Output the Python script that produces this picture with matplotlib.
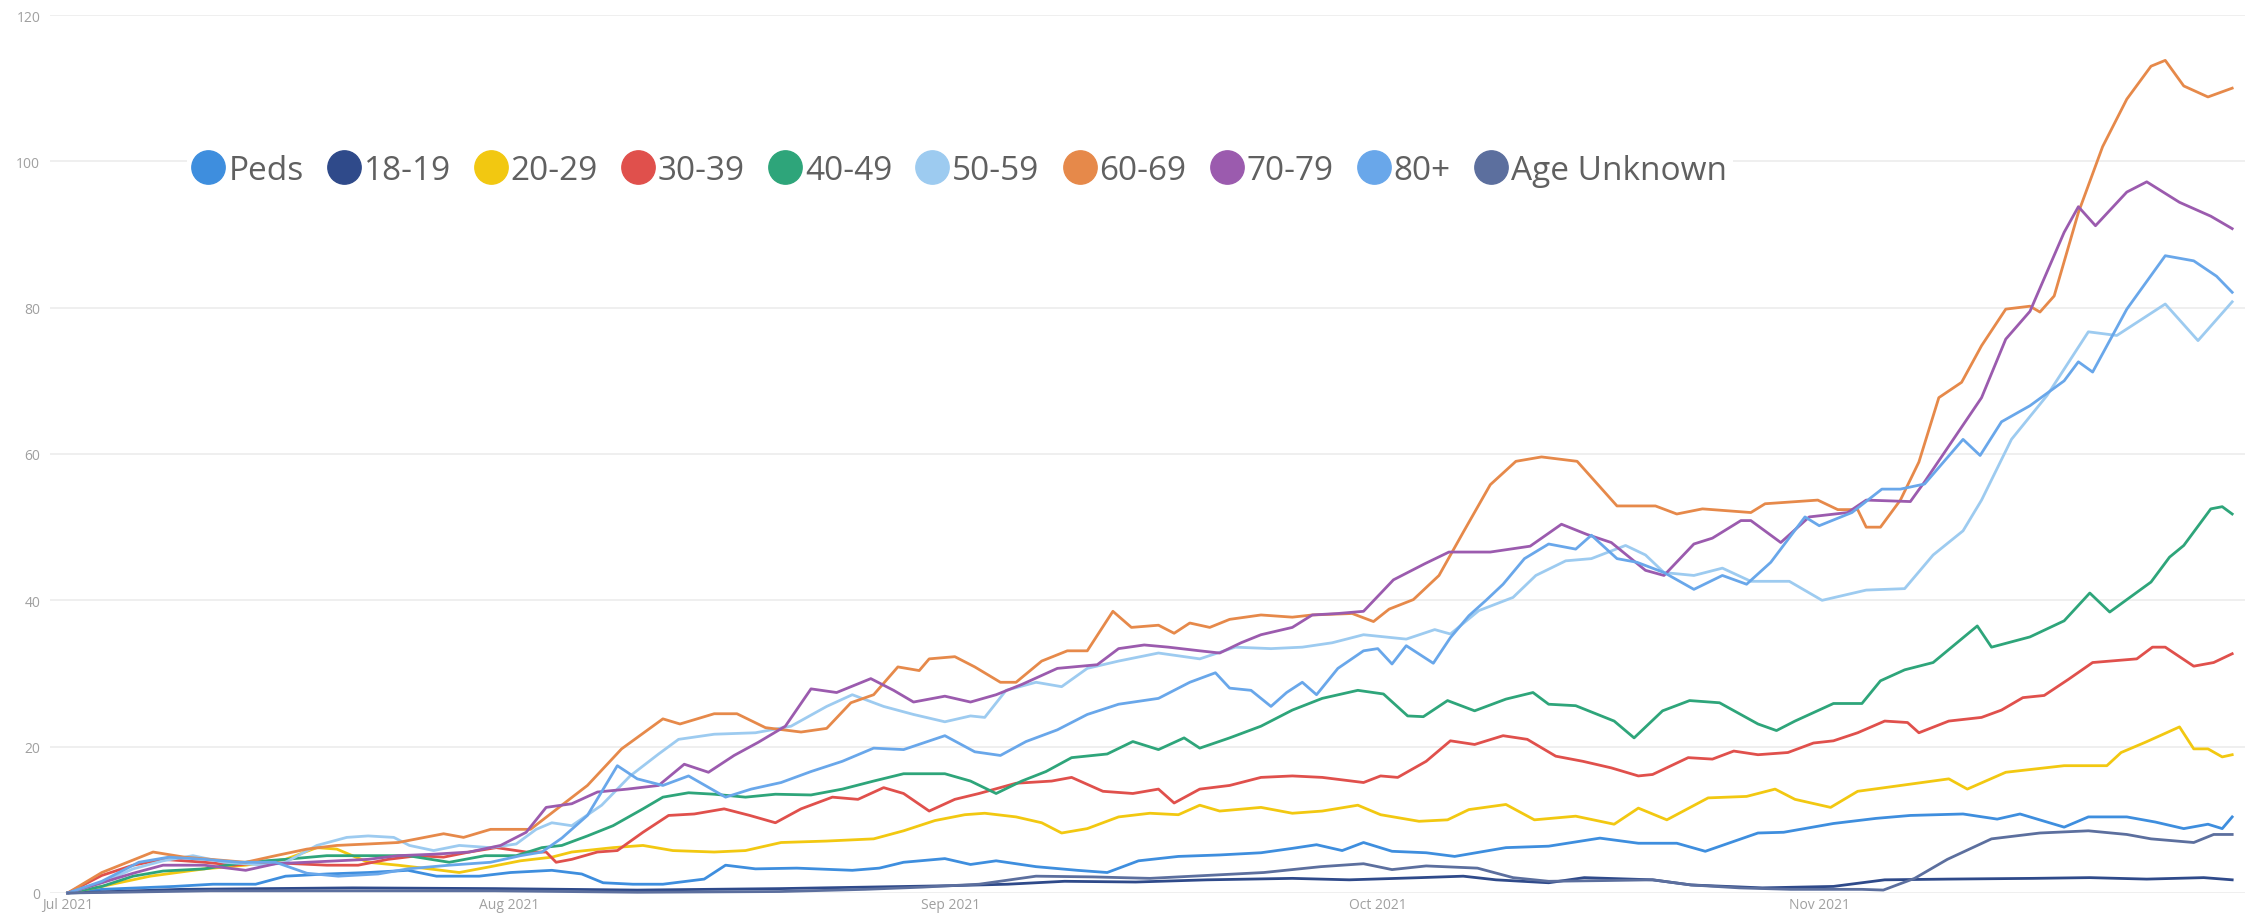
import numpy as np
import matplotlib
matplotlib.use("Agg")
import matplotlib.pyplot as plt
import matplotlib.dates as mdates
from matplotlib.lines import Line2D
from datetime import datetime

plt.rcParams["font.family"] = ["Open Sans", "DejaVu Sans"]

# values: day offset from 1 Jul 2021 and the value at that day
peds_days = [0, 2.4, 7.5, 10.2, 13.2, 15.3, 18.2, 21.1, 23.9, 25.9, 28.9, 31.1, 34, 36.1, 37.6, 39.7, 41.8, 44.7, 46.2, 48.3, 51.2, 55.1, 57, 58.7, 61.6, 63.4, 65.2, 68, 70.9, 73, 75.2, 78, 80.9, 83.8, 86, 87.7, 89.5, 91, 93, 95.4, 97.4, 101, 104, 107.6, 110.3, 113, 115, 118.7, 120.5, 124, 127, 129.4, 133.1, 135.5, 137.1, 140.2, 141.9, 144.6, 146.6, 148.6, 150.3, 151.3, 152]
peds = [0, 0.5, 0.9, 1.2, 1.2, 2.3, 2.6, 2.8, 3.1, 2.3, 2.3, 2.8, 3.1, 2.6, 1.4, 1.2, 1.2, 1.9, 3.8, 3.3, 3.4, 3.1, 3.4, 4.2, 4.7, 3.9, 4.4, 3.6, 3.1, 2.8, 4.4, 5, 5.2, 5.5, 6.1, 6.6, 5.8, 6.9, 5.7, 5.5, 5, 6.2, 6.4, 7.5, 6.8, 6.8, 5.7, 8.2, 8.3, 9.5, 10.2, 10.6, 10.8, 10.1, 10.8, 9, 10.4, 10.4, 9.7, 8.8, 9.4, 8.8, 10.4]

age18_days = [0, 8, 20, 30, 40, 50, 56, 62, 66, 70, 75, 80, 86, 90, 95, 98, 100.3, 104, 106.5, 111.3, 114, 119, 124, 127.6, 132, 138, 142, 146, 150, 152]
age18 = [0, 0.5, 0.7, 0.6, 0.4, 0.6, 0.8, 1, 1.2, 1.6, 1.5, 1.8, 2, 1.8, 2.1, 2.3, 1.8, 1.4, 2.1, 1.8, 1.1, 0.7, 0.9, 1.8, 1.9, 2, 2.1, 1.9, 2.1, 1.8]

age20_days = [0, 2.4, 5.8, 9.6, 12.5, 15.3, 17.5, 18.9, 21.1, 23.2, 25.4, 27.5, 29.7, 31.8, 34, 35.4, 38.3, 40.4, 42.5, 45.4, 47.6, 50.1, 53.3, 56.6, 58.7, 60.9, 63, 64.4, 66.6, 68.4, 69.8, 71.6, 73.8, 76, 78, 79.5, 80.9, 83.8, 86, 88.1, 90.6, 92.2, 94.9, 96.9, 98.4, 101, 103, 105.9, 108.6, 110.3, 112.3, 115.2, 117.9, 119.9, 121.3, 123.8, 125.7, 127.6, 132.1, 133.4, 136.1, 140.2, 143.2, 144.2, 145.9, 148.3, 149.3, 150.3, 151.3, 152]
age20 = [0, 0.9, 2.3, 3.3, 3.8, 4.6, 6.2, 6, 4.2, 3.8, 3.3, 2.8, 3.6, 4.4, 4.9, 5.6, 6.2, 6.5, 5.8, 5.6, 5.8, 6.9, 7.1, 7.4, 8.5, 9.9, 10.7, 10.9, 10.4, 9.6, 8.2, 8.8, 10.4, 10.9, 10.7, 12, 11.2, 11.7, 10.9, 11.2, 12, 10.7, 9.8, 10, 11.4, 12.1, 10, 10.5, 9.4, 11.6, 10, 13, 13.2, 14.2, 12.8, 11.7, 13.9, 14.4, 15.6, 14.2, 16.5, 17.4, 17.4, 19.2, 20.6, 22.7, 19.7, 19.7, 18.6, 18.9]

age30_days = [0, 2.4, 4.6, 6.7, 9.6, 11.7, 13.9, 16, 18.2, 20.4, 22.5, 24.6, 26.4, 28.2, 30.1, 32.2, 33.6, 34.3, 35.4, 37.2, 38.6, 40.4, 42.2, 44, 46.1, 47.9, 49.7, 51.5, 53.7, 55.5, 57.3, 58.7, 60.5, 62.3, 64, 66.6, 69.1, 70.5, 72.7, 74.8, 76.6, 77.7, 79.5, 81.6, 83.8, 86, 88.1, 91, 92.2, 93.4, 95.4, 97.1, 98.8, 100.8, 102.5, 104.5, 106.4, 108.4, 110.3, 111.3, 113.8, 115.5, 117, 118.7, 120.8, 122.6, 124, 125.7, 127.6, 129.2, 130, 132.1, 134.4, 135.8, 137.3, 138.8, 140.5, 142.2, 145.3, 146.4, 147.3, 149.3, 150.7, 152]
age30 = [0, 2.4, 3.8, 4.6, 4.2, 3.8, 4.2, 4, 3.8, 3.8, 4.6, 5.1, 4.9, 5.6, 6.2, 5.6, 5.6, 4.2, 4.6, 5.6, 5.8, 8.3, 10.6, 10.8, 11.5, 10.6, 9.6, 11.5, 13.1, 12.8, 14.4, 13.6, 11.2, 12.8, 13.6, 15, 15.3, 15.8, 13.9, 13.6, 14.2, 12.3, 14.2, 14.7, 15.8, 16, 15.8, 15.1, 16, 15.8, 18, 20.8, 20.3, 21.5, 21, 18.7, 18, 17.1, 16, 16.2, 18.5, 18.3, 19.4, 18.9, 19.2, 20.5, 20.8, 21.9, 23.5, 23.3, 21.9, 23.5, 24, 25, 26.7, 27, 29.2, 31.5, 32, 33.6, 33.6, 31, 31.5, 32.7]

age40_days = [0, 2.4, 4.6, 6.7, 9.6, 12.5, 15.3, 18.2, 21.1, 23.9, 26.8, 29.3, 31.5, 33.3, 34.7, 36.5, 38.3, 40.4, 41.8, 43.6, 45.4, 47.6, 49.7, 52.2, 54.4, 56.6, 58.7, 61.6, 63.4, 65.2, 67, 68.7, 70.5, 73, 74.8, 76.6, 78.4, 79.5, 81.6, 83.8, 86, 88.1, 90.6, 92.4, 94.1, 95.2, 96.9, 98.8, 101, 102.9, 104, 105.9, 108.6, 110, 112, 113.9, 116, 118.7, 120, 121.3, 124, 126, 127.3, 129, 131, 134.1, 135.1, 137.8, 140.2, 142, 143.4, 146.3, 147.6, 148.6, 150.5, 151.3, 152]
age40 = [0, 0.9, 2.3, 3, 3.3, 4.2, 4.6, 5.1, 5.1, 5.1, 4.2, 5.1, 5.1, 6.2, 6.5, 7.8, 9.2, 11.5, 13.1, 13.7, 13.5, 13.1, 13.5, 13.4, 14.2, 15.3, 16.3, 16.3, 15.3, 13.6, 15.3, 16.6, 18.5, 19, 20.7, 19.6, 21.2, 19.8, 21.2, 22.8, 25, 26.6, 27.7, 27.2, 24.2, 24.1, 26.3, 24.9, 26.5, 27.4, 25.8, 25.6, 23.5, 21.2, 24.9, 26.3, 26, 23.1, 22.2, 23.5, 25.9, 25.9, 29, 30.5, 31.5, 36.5, 33.6, 35, 37.2, 41, 38.4, 42.5, 45.9, 47.5, 52.5, 52.8, 51.8]

age50_days = [0, 2.4, 4.6, 6.7, 8.8, 11, 13.9, 15.3, 17.5, 19.6, 21.1, 22.9, 24, 25.7, 27.5, 29.7, 31.5, 32.9, 34, 35.4, 37.5, 39.5, 41.5, 42.9, 45.4, 48.3, 50.8, 53.3, 55.1, 57.3, 59.4, 61.6, 63.4, 64.4, 65.9, 68, 69.8, 71.6, 73.8, 76.6, 79.5, 82, 84.5, 86.7, 88.8, 91, 94, 96, 97.1, 99.1, 101.5, 103.1, 105.2, 107, 109.4, 110.8, 112.1, 114.2, 116.2, 118.2, 120.9, 123.2, 126.3, 129, 131, 133.1, 134.4, 136.5, 139, 141.9, 143.9, 147.3, 149.6, 152]
age50 = [0, 1.4, 3.3, 4.4, 5.1, 4.2, 3.8, 4.2, 6.5, 7.6, 7.8, 7.6, 6.5, 5.8, 6.5, 6.2, 6.7, 8.7, 9.6, 9.2, 12, 16, 19, 21, 21.7, 21.9, 22.8, 25.5, 27.1, 25.5, 24.4, 23.4, 24.2, 24, 27.7, 28.8, 28.2, 30.7, 31.7, 32.8, 32, 33.6, 33.4, 33.6, 34.2, 35.3, 34.7, 36, 35.4, 38.6, 40.4, 43.4, 45.4, 45.7, 47.5, 46.2, 43.8, 43.4, 44.4, 42.6, 42.6, 40, 41.4, 41.6, 46.2, 49.5, 53.7, 62, 68, 76.7, 76.2, 80.5, 75.5, 80.8]

age60_days = [0, 2.4, 4.2, 6, 8.2, 12.5, 14.6, 16.8, 18.9, 21.1, 23.2, 26.4, 27.8, 29.7, 32.5, 36.5, 38.9, 41.8, 43, 45.4, 47, 49, 51.5, 53.3, 55, 56.6, 58.3, 59.8, 60.5, 62.3, 63.7, 65.5, 66.6, 68.4, 70.2, 71.6, 73.4, 74.7, 76.6, 77.7, 78.8, 80.2, 81.6, 83.8, 86, 87.4, 90.2, 91.7, 92.8, 94.5, 96.3, 98, 99.9, 101.7, 103.5, 106, 108.8, 111.5, 113, 114.8, 118.2, 119.2, 122.9, 124.3, 125.7, 126.3, 127.3, 128.7, 130, 131.4, 133, 134.4, 136.1, 137.8, 138.5, 139.5, 141.2, 142.9, 144.6, 146.3, 147.3, 148.6, 150.3, 152]
age60 = [0, 2.8, 4.2, 5.6, 4.9, 4.2, 5.1, 6, 6.5, 6.7, 6.9, 8.1, 7.6, 8.7, 8.7, 14.7, 19.7, 23.8, 23.1, 24.5, 24.5, 22.6, 22, 22.5, 26, 27.1, 30.9, 30.4, 32, 32.3, 30.9, 28.8, 28.8, 31.7, 33.1, 33.1, 38.5, 36.3, 36.6, 35.5, 36.9, 36.3, 37.4, 38, 37.7, 38, 38.2, 37.1, 38.8, 40.1, 43.4, 49.3, 55.8, 59, 59.6, 59, 52.9, 52.9, 51.8, 52.5, 52, 53.2, 53.7, 52.4, 52.4, 50, 50, 53.7, 58.9, 67.7, 69.8, 74.8, 79.8, 80.2, 79.4, 81.6, 93, 102, 108.5, 113, 113.8, 110.3, 108.8, 110]

age70_days = [0, 2.4, 4.6, 6.7, 9.6, 12.5, 14.6, 16.8, 21.1, 23.2, 25.7, 28.2, 30.4, 32.2, 33.6, 35.4, 37.2, 39.3, 41.5, 43.3, 45, 46.8, 48.5, 50.4, 52.2, 54, 56.4, 58, 59.4, 61.6, 63.4, 65.2, 67, 69.5, 72.3, 73.8, 75.6, 77.3, 79.5, 80.9, 82.4, 83.8, 86, 87.4, 89.2, 91, 93.1, 95.3, 97, 99.9, 102.7, 104.9, 106.7, 108.4, 110.8, 112.1, 114.2, 115.5, 117.5, 118.2, 120.3, 122.3, 125, 126.3, 129.4, 130.4, 134.4, 136.1, 137.8, 140.2, 141.2, 142.4, 144.6, 146, 148.3, 150.5, 152]
age70 = [0, 1.4, 2.7, 3.8, 3.8, 3.1, 4, 4.2, 4.6, 5.1, 5.3, 5.6, 6.5, 8.3, 11.7, 12.2, 13.8, 14.2, 14.7, 17.6, 16.5, 18.8, 20.6, 22.8, 27.9, 27.4, 29.3, 27.7, 26.1, 26.9, 26.1, 27.1, 28.5, 30.7, 31.2, 33.4, 33.9, 33.6, 33.1, 32.8, 34.2, 35.3, 36.3, 38, 38.2, 38.5, 42.8, 45, 46.6, 46.6, 47.4, 50.4, 49, 47.9, 44.1, 43.4, 47.7, 48.5, 50.9, 50.9, 47.9, 51.4, 52, 53.7, 53.5, 56.2, 67.7, 75.7, 79.5, 90.3, 93.8, 91.2, 95.8, 97.2, 94.4, 92.5, 90.8]

age80_days = [0, 2.4, 5, 7.1, 9.6, 12.1, 14.6, 16.8, 19, 21.8, 23.9, 26.8, 29.7, 31.8, 33.3, 34.7, 36.5, 38.6, 40, 41.8, 43.6, 46.2, 48, 50.1, 52.2, 54.4, 56.6, 58.7, 61.6, 63.7, 65.5, 67.3, 69.5, 71.6, 73.8, 76.6, 78.8, 80.6, 81.6, 83.1, 84.5, 85.6, 86.7, 87.7, 89.2, 91, 92, 93, 94, 95.9, 97.1, 98.4, 99.6, 100.8, 102.3, 104, 105.9, 107, 108.8, 110.2, 112.1, 114.2, 116.2, 117.9, 119.6, 122, 123, 125.3, 127.4, 128.7, 130.4, 133.1, 134.3, 135.8, 137.8, 140.2, 141.2, 142.2, 144.6, 147.3, 149.3, 150.9, 152]
age80 = [0, 1.6, 4.2, 4.9, 4.6, 4.2, 4.2, 2.7, 2.3, 2.6, 3.3, 3.8, 4.2, 5.1, 5.6, 7.5, 10.6, 17.4, 15.6, 14.7, 16, 13.1, 14.2, 15.1, 16.6, 18, 19.8, 19.6, 21.5, 19.3, 18.8, 20.7, 22.3, 24.4, 25.8, 26.6, 28.8, 30.1, 28, 27.7, 25.5, 27.4, 28.8, 27.1, 30.7, 33.1, 33.4, 31.3, 33.8, 31.4, 34.9, 37.9, 40, 42.2, 45.7, 47.7, 47, 48.9, 45.7, 45.2, 43.8, 41.5, 43.4, 42.2, 45.2, 51.4, 50.2, 52, 55.2, 55.2, 55.9, 62, 59.8, 64.4, 66.6, 70, 72.6, 71.2, 79.8, 87.1, 86.4, 84.3, 82.1]

unknown_days = [0, 10, 30, 40, 50, 56, 60, 64, 68, 72, 76, 80, 84, 88, 91, 93, 95.4, 99, 101.5, 104, 108, 111.3, 114, 117.4, 121, 126, 127.5, 129.7, 132, 135.1, 138.5, 141.9, 144.6, 146.3, 149.3, 150.7, 152]
unknown = [0, 0.3, 0.3, 0.1, 0.2, 0.5, 0.8, 1.2, 2.3, 2.2, 2, 2.4, 2.8, 3.6, 4, 3.2, 3.7, 3.4, 2.1, 1.6, 1.7, 1.8, 1.1, 0.7, 0.5, 0.5, 0.4, 2, 4.6, 7.4, 8.2, 8.5, 8, 7.4, 6.9, 8, 8]

labels = ["Peds", "18-19", "20-29", "30-39", "40-49", "50-59", "60-69", "70-79", "80+", "Age Unknown"]
colors = ["#3e8ede", "#2f4a8a", "#f2c811", "#e0504c", "#2ea57a", "#9dcbf0", "#e6894a", "#9b5bae", "#69a7ea", "#5c6f9e"]
series = [(peds_days, peds), (age18_days, age18), (age20_days, age20), (age30_days, age30),
          (age40_days, age40), (age50_days, age50), (age60_days, age60), (age70_days, age70),
          (age80_days, age80), (unknown_days, unknown)]

W, H = 2254, 920
fig = plt.figure(figsize=(W / 100, H / 100), dpi=100)
ax = fig.add_axes([50 / W, 26 / H, 2195 / W, 878 / H])

base = mdates.date2num(datetime(2021, 7, 1))
for (days, vals), color, name in zip(series, colors, labels):
    ax.plot(base + np.array(days), vals, color=color, lw=2.0, label=name,
            clip_on=False, solid_joinstyle="round")

ax.set_xlim(base - 1.24, base + 152.9)
ax.set_ylim(0, 120)
ax.set_yticks(range(0, 121, 20))
ax.xaxis.set_major_locator(mdates.MonthLocator())
ax.xaxis.set_major_formatter(mdates.DateFormatter("%b %Y"))
ax.grid(axis="y", color="#ececec", lw=1.2)
ax.set_axisbelow(True)
for s in ax.spines.values():
    s.set_visible(False)
ax.tick_params(axis="both", length=0, labelsize=10, labelcolor="#a0a0a0")
ax.tick_params(axis="y", pad=7)
ax.tick_params(axis="x", pad=3)

handles = [Line2D([], [], ls="", marker="o", ms=24, mfc=c, mec=c) for c in colors]
leg = ax.legend(handles, labels, ncol=10, loc="center", bbox_to_anchor=(0.4146, 0.823),
                frameon=True, facecolor="white", edgecolor="none", framealpha=1,
                fontsize=24, labelcolor="#606060", handlelength=0.9, handletextpad=0.15,
                columnspacing=0.75, borderpad=0.2)

fig.savefig("out.png", dpi=100, facecolor="white")
